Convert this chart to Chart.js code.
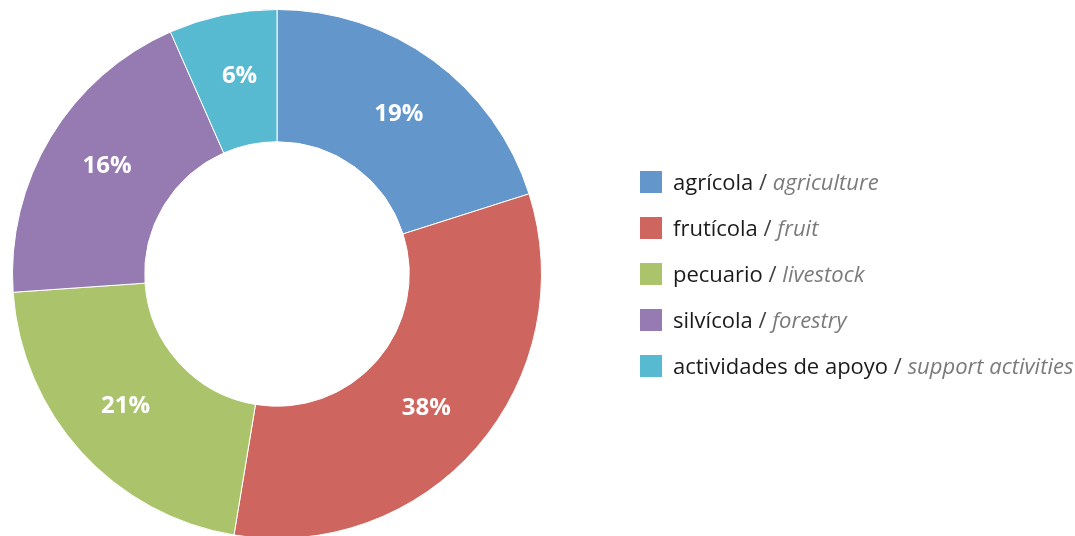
<!DOCTYPE html>
<html>
<head>
<meta charset="utf-8">
<title>Donut</title>
<script src="https://cdn.jsdelivr.net/npm/chart.js"></script>
<style>
  body { margin: 0; background: #fff; font-family: "Open Sans", "Noto Sans", sans-serif; }
  #wrap { position: relative; width: 1075px; height: 536px; overflow: hidden; }
  #chart { position: absolute; left: 0; top: 0; }
  #legend { position: absolute; left: 640px; top: 171px; }
  .item { height: 46px; display: flex; align-items: flex-start; font-size: 22px; line-height: 21px; color: #1b1b1b; white-space: nowrap; }
  .sw { width: 22px; height: 22px; margin-right: 11px; flex: none; }
  .en { font-style: italic; color: #7b7b7b; }
  .sl { color: #444; }
</style>
</head>
<body>
<div id="wrap">
  <canvas id="chart" width="1075" height="540"></canvas>
  <div id="legend"></div>
</div>
<script>
// categories (Spanish / English)
const labelsEs = ['agrícola', 'frutícola', 'pecuario', 'silvícola', 'actividades de apoyo'];
const labelsEn = ['agriculture', 'fruit', 'livestock', 'forestry', 'support activities'];
// slice sizes as drawn in the picture (share of the circle, %)
const values = [20.1, 32.5, 21.3, 19.5, 6.6];
// percentage labels printed on the slices
const pctLabels = ['19%', '38%', '21%', '16%', '6%'];
const colors = ['#6396CA', '#CE655E', '#ABC46B', '#957BB1', '#57BAD0'];

// legend (mixed regular / italic text, so done in html)
const legend = document.getElementById('legend');
labelsEs.forEach((es, i) => {
  const row = document.createElement('div');
  row.className = 'item';
  row.innerHTML = '<span class="sw" style="background:' + colors[i] + '"></span>' +
    '<span>' + es + ' <span class="sl">/</span> <span class="en">' + labelsEn[i] + '</span></span>';
  legend.appendChild(row);
});

// white percentage labels inside slices
const sliceLabels = {
  id: 'sliceLabels',
  afterDatasetsDraw(chart) {
    const ctx = chart.ctx;
    const meta = chart.getDatasetMeta(0);
    ctx.save();
    ctx.fillStyle = '#fff';
    ctx.font = 'bold 24px "Open Sans", "Noto Sans", sans-serif';
    ctx.textAlign = 'center';
    ctx.textBaseline = 'middle';
    meta.data.forEach((arc, i) => {
      const mid = (arc.startAngle + arc.endAngle) / 2 + 0.02;
      const r = arc.outerRadius * 0.76;
      ctx.fillText(pctLabels[i], arc.x + Math.cos(mid) * r, arc.y + Math.sin(mid) * r);
    });
    ctx.restore();
  }
};

new Chart(document.getElementById('chart').getContext('2d'), {
  type: 'doughnut',
  data: {
    labels: labelsEs,
    datasets: [{
      data: values,
      backgroundColor: colors,
      borderColor: '#fff',
      borderWidth: 1
    }]
  },
  options: {
    responsive: false,
    animation: false,
    cutout: '50%',
    layout: { padding: { left: 12, right: 533, top: 9, bottom: 1 } },
    plugins: { legend: { display: false }, tooltip: { enabled: false } }
  },
  plugins: [sliceLabels]
});
</script>
</body>
</html>
